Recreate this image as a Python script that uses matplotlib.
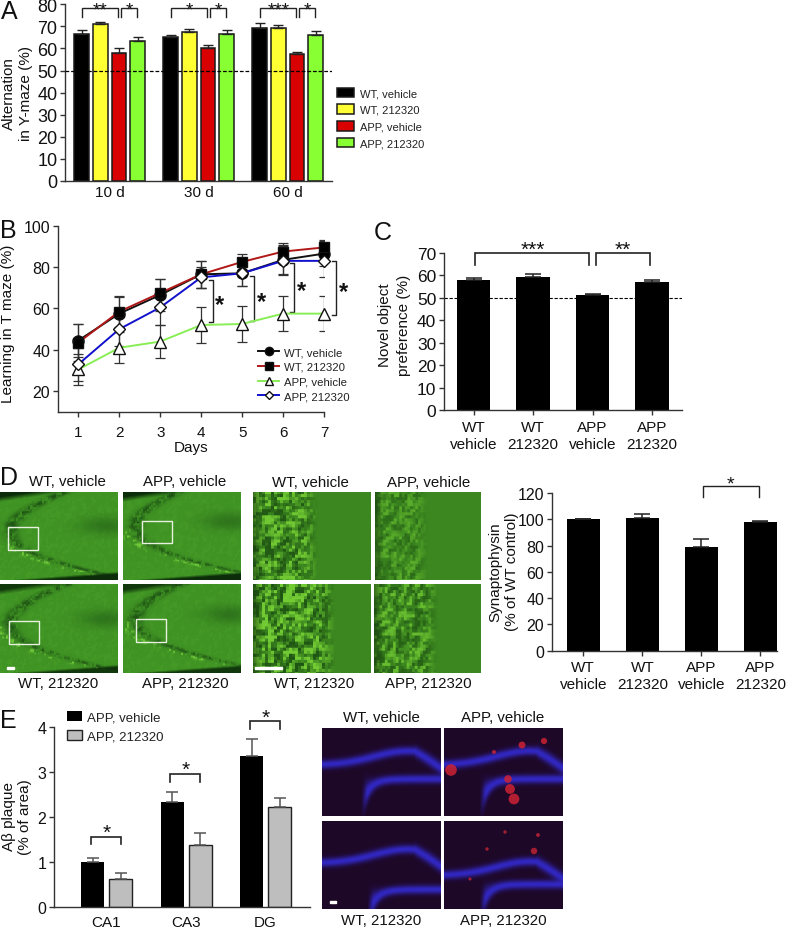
import numpy as np
import matplotlib
matplotlib.use("Agg")
import matplotlib.pyplot as plt
from matplotlib.patches import Rectangle

plt.rcParams['font.family'] = ['Liberation Sans', 'DejaVu Sans']
plt.rcParams['axes.linewidth'] = 1.0
plt.rcParams['axes.edgecolor'] = '#333333'
plt.rcParams['xtick.color'] = '#333333'
plt.rcParams['ytick.color'] = '#333333'
plt.rcParams['xtick.labelcolor'] = '#111111'
plt.rcParams['ytick.labelcolor'] = '#111111'

W, H = 791, 929
TICK_FS = 11

GROUP_NAMES = ["WT, vehicle", "WT, 212320", "APP, vehicle", "APP, 212320"]
GROUP_COLORS = ["#000000", "#FFFF33", "#D80000", "#88FF33"]

# panel A
A_TIMES = ["10 d", "30 d", "60 d"]
A_VALUES = [[66.7, 65.2, 69.2], [71.0, 67.3, 69.4], [57.8, 60.3, 57.5], [63.3, 66.5, 66.2]]
A_ERRORS = [[1.5, 1.0, 2.2], [1.2, 1.7, 1.4], [2.2, 1.4, 1.0], [1.8, 1.8, 1.8]]
A_STARS = [("**", "*"), ("*", "*"), ("***", "*")]

# panel B
B_DAYS = [1, 2, 3, 4, 5, 6, 7]
B_WT_VEH = [44.5, 57.5, 66.5, 76.5, 77.0, 83.5, 86.5]
B_WT_VEH_ERR = [8, 8, 7.5, 6.5, 6, 7, 6]
B_WT_DRUG = [43.5, 58.5, 67.5, 76.5, 82.5, 87.5, 89.5]
B_WT_DRUG_ERR = [9, 7.5, 6.5, 6.5, 4, 4, 3.5]
B_APP_VEH = [30.5, 41.0, 44.0, 52.0, 52.5, 57.5, 57.5]
B_APP_VEH_ERR = [7.5, 7.5, 8, 8.5, 8.5, 8.5, 8.5]
B_APP_DRUG = [33.0, 50.0, 60.5, 75.0, 77.0, 83.0, 83.0]
B_APP_DRUG_ERR = [8, 8, 8.5, 5, 6, 7, 8]
B_BRACKET_X = [4.29, 5.30, 6.27, 7.30]
B_BRACKET_TOP = [73.9, 75.9, 81.8, 82.8]
B_BRACKET_BOTTOM = [53.3, 54.0, 58.5, 56.7]

# panels C and D
BAR_LABELS = ["WT\nvehicle", "WT\n212320", "APP\nvehicle", "APP\n212320"]
C_VALUES = [57.8, 59.2, 51.0, 57.0]
C_ERRORS = [0.9, 1.2, 0.7, 0.8]
D_VALUES = [100, 101, 79, 98]
D_ERRORS = [0, 3, 6, 1]

# panel E
E_REGIONS = ["CA1", "CA3", "DG"]
E_VEH = [1.0, 2.33, 3.35]
E_VEH_ERR = [0.08, 0.22, 0.38]
E_DRUG = [0.63, 1.37, 2.22]
E_DRUG_ERR = [0.13, 0.27, 0.20]
E_BRACKET_TOP = [1.56, 2.96, 4.13]
E_BRACKET_BOTTOM = [1.39, 2.77, 3.96]

fig = plt.figure(figsize=(W / 100, H / 100), dpi=100)


def axes_px(left, top, right, bottom):
    return fig.add_axes([left / W, 1 - bottom / H, (right - left) / W, (bottom - top) / H])


def text_px(x, y, s, **kwargs):
    kwargs.setdefault('ha', 'center')
    kwargs.setdefault('va', 'center')
    kwargs.setdefault('fontsize', 10.8)
    fig.text(x / W, 1 - y / H, s, color='#111111', **kwargs)


def clean(ax, ysize=TICK_FS):
    ax.spines['top'].set_visible(False)
    ax.spines['right'].set_visible(False)
    ax.patch.set_alpha(0)
    ax.tick_params(labelsize=TICK_FS, length=3.5, width=1, pad=2)
    ax.tick_params(axis='y', labelsize=ysize)


def ylabel_at(ax, s, right_px, center_px, linespacing=1.26):
    # right_px is the right edge of the label block, center_px its vertical middle
    ax.set_ylabel(s, fontsize=11, linespacing=linespacing, color='#111111', ha='center')
    box = ax.get_position()
    left, width = box.x0 * W, box.width * W
    bottom, height = (1 - box.y0) * H, box.height * H
    ax.yaxis.set_label_coords((right_px - left) / width, (bottom - center_px) / height)


def bracket(ax, x0, x1, bottom, top, lw=1.2):
    ax.plot([x0, x0, x1, x1], [bottom, top, top, bottom], color='#222222', lw=lw,
            clip_on=False, solid_joinstyle='miter', zorder=6)


def stars(ax, x, y, s, fontsize=15):
    ax.text(x, y, s, ha='center', va='center', fontsize=fontsize, clip_on=False, color='#111111')


def four_bar_panel(ax, values, errors, ylim, yticks, xlim, ysize):
    xx = np.arange(4)
    ax.bar(xx, values, width=0.56, color='black')
    ax.errorbar(xx, values, yerr=[np.zeros(4), errors], fmt='none', ecolor='#222222',
                elinewidth=1.1, capsize=5.5, capthick=1.1)
    ax.set_xlim(*xlim)
    ax.set_ylim(*ylim)
    ax.set_yticks(yticks)
    ax.set_xticks(xx)
    ax.set_xticklabels(BAR_LABELS, linespacing=1.26)
    clean(ax, ysize)
    ax.tick_params(axis='x', pad=3.5)


# ---- panel A
ax = axes_px(65, 5.3, 332, 182)
pitch = 18.7
group_step = 4.76
first = 0.89
for i, name in enumerate(GROUP_NAMES):
    xx = first + i + group_step * np.arange(3)
    ax.bar(xx, A_VALUES[i], width=0.78, color=GROUP_COLORS[i], edgecolor='#1a1a1a', lw=1.1, label=name)
    ax.errorbar(xx, A_VALUES[i], yerr=[np.zeros(3), A_ERRORS[i]], fmt='none', ecolor='#222222',
                elinewidth=1.0, capsize=3.6, capthick=1.0)
ax.axhline(50, color='black', ls='--', lw=0.9, dashes=(3, 1.5), zorder=5)
ax.set_xlim(0, 267 / pitch)
ax.set_ylim(0, 80)
ax.set_yticks(np.arange(0, 81, 10))
ax.set_xticks(first + 1.5 + group_step * np.arange(3))
ax.set_xticklabels(A_TIMES)
clean(ax, 13)
ax.tick_params(axis='x', length=0, pad=3)
ylabel_at(ax, "Alternation\nin Y-maze (%)", 33, 93.5)
for g in range(3):
    x0 = first + group_step * g
    bracket(ax, x0, x0 + 1.95, 74.2, 78.2, lw=1.0)
    bracket(ax, x0 + 2.13, x0 + 2.95, 74.2, 78.2, lw=1.0)
    stars(ax, x0 + 1.0, 77.6, A_STARS[g][0], fontsize=13.5)
    stars(ax, x0 + 2.55, 77.6, A_STARS[g][1], fontsize=13.5)
ax.legend(loc='upper left', bbox_to_anchor=(337 / W, 1 - 88.5 / H), bbox_transform=fig.transFigure,
          frameon=False, fontsize=8, handlelength=1.55, handleheight=0.95, labelspacing=0.55,
          handletextpad=0.55, borderpad=0, borderaxespad=0, labelcolor='#222222')

# ---- panel B
ax = axes_px(58, 226.7, 324, 412.7)
series_b = [
    (B_WT_VEH, B_WT_VEH_ERR, '#111111', 'o', 'black', 8),
    (B_WT_DRUG, B_WT_DRUG_ERR, '#B01818', 's', 'black', 7.5),
    (B_APP_VEH, B_APP_VEH_ERR, '#88EE55', '^', 'white', 8),
    (B_APP_DRUG, B_APP_DRUG_ERR, '#1111CC', 'D', 'white', 6),
]
for i, (vals, errs, col, mk, mfc, ms) in enumerate(series_b):
    ax.errorbar(B_DAYS, vals, yerr=errs, fmt='none', ecolor='#333333', elinewidth=0.9, capsize=3.5,
                capthick=0.9, zorder=2)
    ax.plot(B_DAYS, vals, color=col, lw=1.4, zorder=3 + i)
    ax.plot(B_DAYS, vals, ls='none', marker=mk, mfc=mfc, mec='#111111', mew=1.0, ms=ms, zorder=3 + i,
            clip_on=False)
ax.set_xlim(0.504, 7)
ax.set_ylim(10.1, 100)
ax.set_yticks([20, 40, 60, 80, 100])
ax.set_xticks(B_DAYS)
clean(ax, 11.5)
ax.tick_params(axis='x', pad=6)
ax.set_xlabel("Days", fontsize=11, labelpad=1, color='#111111')
ylabel_at(ax, "Learning in T maze (%)", 15, 323.8)
for bx, top, bot in zip(B_BRACKET_X, B_BRACKET_TOP, B_BRACKET_BOTTOM):
    ax.plot([bx - 0.11, bx, bx, bx - 0.11], [top, top, bot, bot], color='#222222', lw=1.0, clip_on=False)
    ax.text(bx + 0.17, (top + bot) / 2 - 1.5, "*", fontsize=17, fontweight='bold', ha='center',
            va='center', clip_on=False, color='#111111')
handles = [ax.plot([], [], color=c, lw=1.4, marker=m, mfc=f, mec='#111111', ms=s * 0.75)[0]
           for _, _, c, m, f, s in series_b]
ax.legend(handles, GROUP_NAMES, loc='upper left', bbox_to_anchor=(258 / W, 1 - 348 / H),
          bbox_transform=fig.transFigure, frameon=False, fontsize=8.2, handlelength=1.85, labelspacing=0.42,
          handletextpad=0.45, borderpad=0, borderaxespad=0, labelcolor='#222222')

# ---- panel C
ax = axes_px(444, 253.7, 681.7, 411)
four_bar_panel(ax, C_VALUES, C_ERRORS, (0, 70), np.arange(0, 71, 10), (-0.5, 3.5), 12.5)
ax.axhline(50, color='black', ls='--', lw=0.8, dashes=(3, 1.5), zorder=1)
ylabel_at(ax, "Novel object\npreference (%)", 411, 325, linespacing=1.45)
bracket(ax, 0.03, 1.94, 64.7, 70)
bracket(ax, 2.05, 2.96, 64.7, 70)
stars(ax, 1.0, 71.5, "***")
stars(ax, 2.5, 71.5, "**")

# ---- panel D bar chart
ax = axes_px(552, 494, 777, 651.7)
four_bar_panel(ax, D_VALUES, D_ERRORS, (0, 120), np.arange(0, 121, 20), (-0.53, 3.28), 11.5)
ylabel_at(ax, "Synaptophysin\n(% of WT control)", 519, 571.7)
bracket(ax, 2.02, 2.97, 116.8, 125, lw=1.0)
stars(ax, 2.5, 127, "*", fontsize=14)

# ---- panel E
ax = axes_px(54, 728, 310, 908)
xx = 1.375 + 2.84 * np.arange(3)
ax.bar(xx, E_VEH, width=0.82, color='black', label="APP, vehicle")
ax.bar(xx + 1, E_DRUG, width=0.82, color='#BEBEBE', edgecolor='#222222', lw=1.0, label="APP, 212320")
ax.errorbar(xx, E_VEH, yerr=[np.zeros(3), E_VEH_ERR], fmt='none', ecolor='#555555', elinewidth=1.1,
            capsize=4.5, capthick=1.1)
ax.errorbar(xx + 1, E_DRUG, yerr=[np.zeros(3), E_DRUG_ERR], fmt='none', ecolor='#555555', elinewidth=1.1,
            capsize=4.5, capthick=1.1)
ax.set_xlim(0, 256 / 28)
ax.set_ylim(0, 4)
ax.set_yticks([0, 1, 2, 3, 4])
ax.set_xticks(xx + 0.5)
ax.set_xticklabels(E_REGIONS)
clean(ax, 11.5)
ax.tick_params(axis='x', length=0, pad=6)
ylabel_at(ax, "A\u03b2 plaque\n(% of area)", 32, 817, linespacing=1.15)
for i in range(3):
    bracket(ax, xx[i] - 0.07, xx[i] + 1.0, E_BRACKET_BOTTOM[i], E_BRACKET_TOP[i], lw=1.2)
    stars(ax, xx[i] + 0.5, E_BRACKET_TOP[i] + 0.09, "*", fontsize=15)
ax.legend(loc='upper left', bbox_to_anchor=(67 / W, 1 - 712 / H), bbox_transform=fig.transFigure,
          frameon=False, fontsize=9.5, handlelength=1.15, handleheight=0.8, labelspacing=0.5,
          handletextpad=0.4, borderpad=0, borderaxespad=0, labelcolor='#222222')


# ---- micrographs, smooth stand-ins for the photographs
def field(nx, ny):
    return np.meshgrid(np.linspace(0, 1, nx), np.linspace(0, 1, ny))


def mix(base, other, weight):
    return base + (np.array(other) - base) * weight[..., None]


def speckle(ny, nx, cell, seed):
    # cell noise from a sine hash, softened by averaging with its neighbours
    iy, ix = np.indices((ny // cell + 2, nx // cell + 2))
    h = np.sin(ix * 12.9898 + iy * 78.233 + seed) * 43758.5453
    h = h - np.floor(h)
    h = (h + np.roll(h, 1, 0) + np.roll(h, 1, 1)) / 3
    h = np.repeat(np.repeat(h, cell, axis=0), cell, axis=1)[:ny, :nx]
    return np.clip((h - 0.5) * 5, -1, 1)


def wide_field(apex_x, apex_y, shade, seed):
    x, y = field(118, 88)
    img = np.ones(y.shape + (3,)) * np.array([64, 148, 36])
    g = speckle(88, 118, 2, seed)
    img = mix(img, [84, 172, 46], 0.25 * np.clip(g, 0, 1))
    k = np.where(y < apex_y, 2.2, 3.6)
    curve = apex_x + k * (y - apex_y) ** 2
    # dark cell layer with a bright edge on its outer side
    band = np.exp(-((x - curve) / 0.07) ** 2)
    img = mix(img, [30, 84, 20], np.clip(0.55 + 0.45 * g, 0, 1) * band)
    stripe = np.exp(-((x - curve + 0.09) / 0.05) ** 2) * (y > apex_y)
    img = mix(img, [115, 205, 58], np.clip(g, 0, 1) * stripe)
    wedge = np.exp(-((x - 0.9) / 0.22) ** 2 - ((y - apex_y + 0.08) / 0.1) ** 2)
    img = mix(img, [38, 100, 24], 0.65 * wedge)
    img = mix(img, [12, 45, 10], np.clip((0.08 - y - 0.2 * (x - 0.2)) / 0.06, 0, 1) * shade)
    img = mix(img, [12, 45, 10], np.clip((y - 0.97 - 0.1 * (0.4 - x)) / 0.03, 0, 1) * shade)
    return img.astype(np.uint8)


def zoom_field(edge, contrast, seed):
    x, y = field(118, 88)
    img = np.ones(y.shape + (3,)) * np.array([60, 135, 32])
    grain = speckle(88, 118, 3, seed)
    layer = np.clip((edge - x) / 0.12, 0, 1)
    img = mix(img, [125, 215, 55], contrast * np.clip(grain, 0, 1) * layer)
    img = mix(img, [28, 78, 18], contrast * np.clip(-grain, 0, 1) * layer)
    img = mix(img, [25, 60, 16], 0.6 * np.clip((0.08 - x) / 0.08, 0, 1))
    return img.astype(np.uint8)


def plaque_field(upper_y, lower_y, hook_x):
    x, y = field(238, 176)
    img = np.ones(y.shape + (3,)) * np.array([30, 8, 40])
    # upper blade rises to a crest and falls away, lower blade hooks down at its left end
    upper = upper_y - 0.16 * np.exp(-((x - 0.72) / 0.4) ** 2) + 0.6 * np.clip(x - 0.78, 0, 1)
    lower = lower_y + 0.3 * np.exp(-(x - hook_x) / 0.07)
    for curve, mask in ((upper, np.ones_like(x)), (lower, np.clip((x - hook_x) / 0.05, 0, 1))):
        slope = np.gradient(curve, x[0, :], axis=1)
        dist = (y - curve) / np.sqrt(1 + slope ** 2)
        img = mix(img, [50, 40, 195], np.exp(-(dist / 0.05) ** 2) * mask)
    return img.astype(np.uint8)


def photo(left, top, right, bottom, img, boxes=()):
    pa = axes_px(left, top, right, bottom)
    pa.imshow(img, aspect='auto', extent=(left, right, bottom, top), interpolation='bilinear')
    pa.set_axis_off()
    for (x0, y0, x1, y1) in boxes:
        pa.add_patch(Rectangle((x0, y0), x1 - x0, y1 - y0, fill=False, ec='#E8F0E0', lw=1.0))
    return pa


photo(0, 492.7, 118, 581, wide_field(0.08, 0.47, 1.0, 1), [(8, 528, 38.5, 551)])
photo(123, 492.7, 241, 581, wide_field(0.1, 0.42, 1.0, 2), [(141.5, 522, 171.5, 544.5)])
photo(0, 585, 118, 674, wide_field(0.08, 0.47, 0.9, 3), [(9.5, 622, 39.5, 644.5)])
photo(123, 585, 241, 674, wide_field(0.1, 0.42, 0.9, 4), [(135.5, 620, 165.5, 642.5)])
photo(253, 492.7, 371, 581, zoom_field(0.55, 0.8, 5))
photo(375, 492.7, 481, 581, zoom_field(0.5, 0.45, 6))
photo(253, 585, 371, 674, zoom_field(0.7, 0.85, 7))
photo(374, 585, 481, 674, zoom_field(0.6, 0.65, 8))
# scale bars
fig.add_artist(Rectangle((7 / W, 1 - 670 / H), 7 / W, 2.5 / H, color='white', transform=fig.transFigure))
fig.add_artist(Rectangle((255 / W, 1 - 670 / H), 27 / W, 2.5 / H, color='white', transform=fig.transFigure))

PLAQ_A = photo(444, 729, 563, 817, plaque_field(0.42, 0.58, 0.3))
photo(322, 729, 441, 817, plaque_field(0.42, 0.58, 0.33))
photo(322, 822, 441, 910, plaque_field(0.48, 0.78, 0.38))
PLAQ_D = photo(444, 822, 563, 910, plaque_field(0.62, 0.72, 0.3))
PLAQ_A.scatter([451, 508, 510, 514, 522, 544, 494], [771, 780, 790, 800, 746, 742, 753],
               s=[70, 30, 50, 60, 25, 20, 8], color='#CC2233', alpha=0.85, lw=0, zorder=3)
PLAQ_A.set_xlim(444, 563)
PLAQ_A.set_ylim(817, 729)
PLAQ_D.scatter([534, 538, 505, 487, 470], [852, 836, 833, 850, 880], s=[22, 8, 6, 6, 5],
               color='#BB2233', alpha=0.85, lw=0, zorder=3)
PLAQ_D.set_xlim(444, 563)
PLAQ_D.set_ylim(910, 822)
fig.add_artist(Rectangle((330 / W, 1 - 904 / H), 6 / W, 2.5 / H, color='white', transform=fig.transFigure))

# ---- panel letters and photo captions
for letter, lx, ly in [("A", 9, 12), ("B", 8, 231), ("C", 383, 233), ("D", 9, 478), ("E", 8, 721)]:
    text_px(lx, ly, letter, fontsize=18)
for cx, cy, s in [(67, 482, "WT, vehicle"), (185, 482, "APP, vehicle"), (310, 483, "WT, vehicle"),
                  (429, 483, "APP, vehicle"), (58, 684, "WT, 212320"), (185, 684, "APP, 212320"),
                  (314, 684, "WT, 212320"), (428, 684, "APP, 212320"), (381, 718, "WT, vehicle"),
                  (503, 718, "APP, vehicle"), (381, 921, "WT, 212320"), (503, 921, "APP, 212320")]:
    text_px(cx, cy, s)

fig.savefig("out.png", dpi=100)
